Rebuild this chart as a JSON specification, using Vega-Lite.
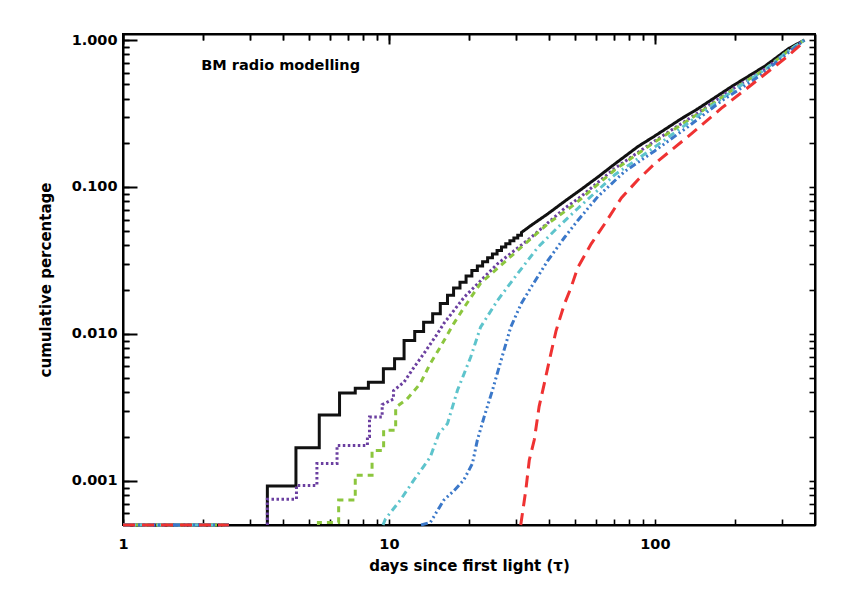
{
  "$schema": "https://vega.github.io/schema/vega-lite/v6.json",
  "width": 692,
  "height": 491,
  "autosize": "none",
  "padding": {"left": 123, "top": 34, "right": 47, "bottom": 69},
  "background": "white",
  "config": {
    "view": {"stroke": "black", "strokeWidth": 2},
    "axis": {
      "domainColor": "black", "tickColor": "black", "labelColor": "black", "titleColor": "black",
      "labelFont": "DejaVu Sans", "labelFontWeight": "bold", "labelFontSize": 14.5,
      "titleFont": "DejaVu Sans", "titleFontWeight": "bold", "titleFontSize": 15,
      "domainWidth": 2, "tickWidth": 1.6, "labelFlush": false, "labelOverlap": false,
      "grid": true, "gridColor": "black", "gridOpacity": 1
    }
  },
  "datasets": {
    "curves": [
      {"series":"s1","x":3.49,"y":0.0005},{"series":"s1","x":3.49,"y":0.00092},{"series":"s1","x":4.47,"y":0.00092},{"series":"s1","x":4.47,"y":0.00168},
      {"series":"s1","x":5.47,"y":0.00168},{"series":"s1","x":5.47,"y":0.0028},{"series":"s1","x":6.52,"y":0.0028},{"series":"s1","x":6.52,"y":0.00396},
      {"series":"s1","x":7.47,"y":0.00396},{"series":"s1","x":7.47,"y":0.00426},{"series":"s1","x":8.37,"y":0.00426},{"series":"s1","x":8.37,"y":0.00468},
      {"series":"s1","x":9.53,"y":0.00468},{"series":"s1","x":9.53,"y":0.00579},{"series":"s1","x":10.5,"y":0.00579},{"series":"s1","x":10.5,"y":0.00678},
      {"series":"s1","x":11.4,"y":0.00678},{"series":"s1","x":11.4,"y":0.00903},{"series":"s1","x":12.5,"y":0.00903},{"series":"s1","x":12.5,"y":0.0104},
      {"series":"s1","x":13.5,"y":0.0104},{"series":"s1","x":13.5,"y":0.012},{"series":"s1","x":14.6,"y":0.012},{"series":"s1","x":14.6,"y":0.0137},
      {"series":"s1","x":15.6,"y":0.0137},{"series":"s1","x":15.6,"y":0.0161},{"series":"s1","x":16.6,"y":0.0161},{"series":"s1","x":16.6,"y":0.0183},
      {"series":"s1","x":17.5,"y":0.0183},{"series":"s1","x":17.5,"y":0.0205},{"series":"s1","x":18.5,"y":0.0205},{"series":"s1","x":18.5,"y":0.0225},
      {"series":"s1","x":19.5,"y":0.0225},{"series":"s1","x":19.5,"y":0.0248},{"series":"s1","x":20.5,"y":0.0248},{"series":"s1","x":20.5,"y":0.027},
      {"series":"s1","x":21.5,"y":0.027},{"series":"s1","x":21.5,"y":0.029},{"series":"s1","x":22.5,"y":0.029},{"series":"s1","x":22.5,"y":0.031},
      {"series":"s1","x":23.5,"y":0.031},{"series":"s1","x":23.5,"y":0.033},{"series":"s1","x":24.5,"y":0.033},{"series":"s1","x":24.5,"y":0.035},
      {"series":"s1","x":25.5,"y":0.035},{"series":"s1","x":25.5,"y":0.037},{"series":"s1","x":26.5,"y":0.037},{"series":"s1","x":26.5,"y":0.039},
      {"series":"s1","x":27.5,"y":0.039},{"series":"s1","x":27.5,"y":0.041},{"series":"s1","x":28.5,"y":0.041},{"series":"s1","x":28.5,"y":0.043},
      {"series":"s1","x":29.5,"y":0.043},{"series":"s1","x":29.5,"y":0.045},{"series":"s1","x":30.5,"y":0.045},{"series":"s1","x":30.5,"y":0.047},
      {"series":"s1","x":31.5,"y":0.047},{"series":"s1","x":31.5,"y":0.049},{"series":"s1","x":34.2,"y":0.0547},{"series":"s1","x":39.5,"y":0.0655},
      {"series":"s1","x":45.7,"y":0.0797},{"series":"s1","x":52.8,"y":0.0962},{"series":"s1","x":61.1,"y":0.117},{"series":"s1","x":70.5,"y":0.143},
      {"series":"s1","x":86.4,"y":0.1886},{"series":"s1","x":99.8,"y":0.222},{"series":"s1","x":125.9,"y":0.292},{"series":"s1","x":145.6,"y":0.342},
      {"series":"s1","x":194.4,"y":0.483},{"series":"s1","x":259.6,"y":0.666},{"series":"s1","x":318,"y":0.875},{"series":"s1","x":365,"y":1.0},

      {"series":"s2","x":3.49,"y":0.0005},{"series":"s2","x":3.49,"y":0.00075},{"series":"s2","x":4.49,"y":0.00075},{"series":"s2","x":4.49,"y":0.00093},
      {"series":"s2","x":5.36,"y":0.00093},{"series":"s2","x":5.36,"y":0.00131},{"series":"s2","x":6.38,"y":0.00131},{"series":"s2","x":6.38,"y":0.00174},
      {"series":"s2","x":8.3,"y":0.00174},{"series":"s2","x":8.3,"y":0.002},{"series":"s2","x":8.45,"y":0.002},{"series":"s2","x":8.45,"y":0.00272},
      {"series":"s2","x":9.43,"y":0.00272},{"series":"s2","x":9.43,"y":0.0033},{"series":"s2","x":10.4,"y":0.0036},{"series":"s2","x":10.4,"y":0.0041},
      {"series":"s2","x":11.4,"y":0.0047},{"series":"s2","x":12.4,"y":0.0059},{"series":"s2","x":13.5,"y":0.0073},{"series":"s2","x":15.2,"y":0.01},
      {"series":"s2","x":16.1,"y":0.0118},{"series":"s2","x":19.2,"y":0.0178},{"series":"s2","x":25.6,"y":0.03},{"series":"s2","x":34.2,"y":0.0453},
      {"series":"s2","x":45.7,"y":0.0714},{"series":"s2","x":52.8,"y":0.0862},{"series":"s2","x":70.5,"y":0.1336},{"series":"s2","x":99.8,"y":0.2056},
      {"series":"s2","x":145.6,"y":0.321},{"series":"s2","x":194.4,"y":0.461},{"series":"s2","x":259.6,"y":0.635},{"series":"s2","x":318,"y":0.848},
      {"series":"s2","x":365,"y":1.0},

      {"series":"s3","x":5.43,"y":0.0005},{"series":"s3","x":5.43,"y":0.00052},{"series":"s3","x":6.47,"y":0.00052},{"series":"s3","x":6.47,"y":0.00074},
      {"series":"s3","x":7.47,"y":0.00074},{"series":"s3","x":7.47,"y":0.00109},{"series":"s3","x":8.64,"y":0.00109},{"series":"s3","x":8.64,"y":0.00161},
      {"series":"s3","x":9.55,"y":0.00161},{"series":"s3","x":9.55,"y":0.00221},{"series":"s3","x":10.6,"y":0.00221},{"series":"s3","x":10.6,"y":0.00316},
      {"series":"s3","x":11.7,"y":0.0036},{"series":"s3","x":13.1,"y":0.00458},{"series":"s3","x":14.3,"y":0.00627},{"series":"s3","x":15.6,"y":0.00813},
      {"series":"s3","x":17.5,"y":0.0117},{"series":"s3","x":19.2,"y":0.0152},{"series":"s3","x":22.1,"y":0.0221},{"series":"s3","x":29.6,"y":0.0353},
      {"series":"s3","x":39.5,"y":0.056},{"series":"s3","x":49.8,"y":0.076},{"series":"s3","x":70.5,"y":0.1305},{"series":"s3","x":99.8,"y":0.2024},
      {"series":"s3","x":145.6,"y":0.316},{"series":"s3","x":194.4,"y":0.453},{"series":"s3","x":259.6,"y":0.635},{"series":"s3","x":318,"y":0.848},
      {"series":"s3","x":365,"y":1.0},

      {"series":"s4","x":9.5,"y":0.0005},{"series":"s4","x":9.7,"y":0.00055},{"series":"s4","x":11.05,"y":0.00074},{"series":"s4","x":12.4,"y":0.00101},
      {"series":"s4","x":14.3,"y":0.00145},{"series":"s4","x":15.4,"y":0.00209},{"series":"s4","x":16.6,"y":0.00245},{"series":"s4","x":18.1,"y":0.00413},
      {"series":"s4","x":20.3,"y":0.00695},{"series":"s4","x":22.1,"y":0.0111},{"series":"s4","x":25.6,"y":0.0169},{"series":"s4","x":30.5,"y":0.0258},
      {"series":"s4","x":36.3,"y":0.0388},{"series":"s4","x":43.1,"y":0.053},{"series":"s4","x":51.3,"y":0.0714},{"series":"s4","x":70.5,"y":0.1207},
      {"series":"s4","x":99.8,"y":0.187},{"series":"s4","x":145.6,"y":0.306},{"series":"s4","x":194.4,"y":0.446},{"series":"s4","x":259.6,"y":0.63},
      {"series":"s4","x":318,"y":0.848},{"series":"s4","x":365,"y":1.0},

      {"series":"s5","x":13.2,"y":0.0005},{"series":"s5","x":14.3,"y":0.00052},{"series":"s5","x":16.1,"y":0.00074},{"series":"s5","x":17.6,"y":0.00086},
      {"series":"s5","x":19.1,"y":0.00101},{"series":"s5","x":20.6,"y":0.00131},{"series":"s5","x":21.5,"y":0.00189},{"series":"s5","x":22.8,"y":0.00272},
      {"series":"s5","x":24.5,"y":0.00413},{"series":"s5","x":26.4,"y":0.0066},{"series":"s5","x":28.7,"y":0.0111},{"series":"s5","x":31.4,"y":0.016},
      {"series":"s5","x":34.2,"y":0.0207},{"series":"s5","x":39.5,"y":0.0314},{"series":"s5","x":45.7,"y":0.0453},{"series":"s5","x":51.3,"y":0.0592},
      {"series":"s5","x":61.1,"y":0.0862},{"series":"s5","x":76.9,"y":0.1274},{"series":"s5","x":99.8,"y":0.176},{"series":"s5","x":133.5,"y":0.258},
      {"series":"s5","x":178,"y":0.385},{"series":"s5","x":238,"y":0.543},{"series":"s5","x":318,"y":0.822},{"series":"s5","x":365,"y":1.0},

      {"series":"s6","x":31.3,"y":0.0005},{"series":"s6","x":32.7,"y":0.00086},{"series":"s6","x":33.7,"y":0.00138},{"series":"s6","x":35.2,"y":0.0019},
      {"series":"s6","x":36.7,"y":0.0032},{"series":"s6","x":38.4,"y":0.0046},{"series":"s6","x":40.1,"y":0.0066},{"series":"s6","x":42.5,"y":0.0105},
      {"series":"s6","x":45.7,"y":0.016},{"series":"s6","x":48.4,"y":0.0207},{"series":"s6","x":51.3,"y":0.0283},{"series":"s6","x":57.6,"y":0.041},
      {"series":"s6","x":64.7,"y":0.056},{"series":"s6","x":74.8,"y":0.0842},{"series":"s6","x":86.4,"y":0.112},{"series":"s6","x":99.8,"y":0.144},
      {"series":"s6","x":133.5,"y":0.221},{"series":"s6","x":178,"y":0.344},{"series":"s6","x":238,"y":0.518},{"series":"s6","x":318,"y":0.785},
      {"series":"s6","x":350,"y":0.917},{"series":"s6","x":365,"y":1.0}
    ],
    "floor": [
      {"series":"s1","x":1,"y":0.0005},{"series":"s1","x":2.5,"y":0.0005},
      {"series":"s2","x":1,"y":0.0005},{"series":"s2","x":2.5,"y":0.0005},
      {"series":"s3","x":1,"y":0.0005},{"series":"s3","x":2.5,"y":0.0005},
      {"series":"s4","x":1,"y":0.0005},{"series":"s4","x":2.5,"y":0.0005},
      {"series":"s5","x":1,"y":0.0005},{"series":"s5","x":2.5,"y":0.0005},
      {"series":"s6","x":1,"y":0.0005},{"series":"s6","x":2.5,"y":0.0005}
    ],
    "note": [{"label":"BM radio modelling","x":1.97,"y":0.626}]
  },
  "layer": [
    {
      "data": {"name": "curves"},
      "mark": {"type": "line", "strokeWidth": 3},
      "encoding": {
        "x": {"field": "x", "type": "quantitative",
          "scale": {"type": "log", "domain": [1, 400], "nice": false},
          "axis": {"orient": "bottom", "values": [1,2,3,4,5,6,7,8,9,10,20,30,40,50,60,70,80,90,100,200,300], "format": "d",
            "labelOpacity": {"condition": {"test": "abs(log(datum.value)/LN10 - round(log(datum.value)/LN10)) < 0.001", "value": 1}, "value": 0},
            "gridDash": {"condition": {"test": "abs(log(datum.value)/LN10 - round(log(datum.value)/LN10)) < 0.001", "value": [10, 3000]}, "value": [6, 3000]},
            "gridWidth": {"condition": {"test": "abs(log(datum.value)/LN10 - round(log(datum.value)/LN10)) < 0.001", "value": 2}, "value": 1.5},
            "tickSize": -6, "labelPadding": 18,
            "title": "days since first light (τ)", "titlePadding": 8}},
        "y": {"field": "y", "type": "quantitative",
          "scale": {"type": "log", "domain": [0.0005, 1.1], "nice": false},
          "axis": {"orient": "left", "values": [0.0006,0.0007,0.0008,0.0009,0.001,0.002,0.003,0.004,0.005,0.006,0.007,0.008,0.009,0.01,0.02,0.03,0.04,0.05,0.06,0.07,0.08,0.09,0.1,0.2,0.3,0.4,0.5,0.6,0.7,0.8,0.9,1], "format": ".3f",
            "labelOpacity": {"condition": {"test": "abs(log(datum.value)/LN10 - round(log(datum.value)/LN10)) < 0.001", "value": 1}, "value": 0},
            "gridDash": {"condition": {"test": "abs(log(datum.value)/LN10 - round(log(datum.value)/LN10)) < 0.001", "value": [14, 3000]}, "value": [6, 3000]},
            "gridWidth": {"condition": {"test": "abs(log(datum.value)/LN10 - round(log(datum.value)/LN10)) < 0.001", "value": 2}, "value": 1.5},
            "tickSize": -6, "labelPadding": 12,
            "title": "cumulative percentage", "titlePadding": 18}},
        "color": {"field": "series", "type": "nominal", "legend": null,
          "scale": {"domain": ["s1","s2","s3","s4","s5","s6"], "range": ["#111111","#6b3fa0","#8cc63e","#5ec4cc","#3b78c9","#ef3232"]}},
        "strokeDash": {"field": "series", "type": "nominal", "legend": null,
          "scale": {"domain": ["s1","s2","s3","s4","s5","s6"], "range": [[1,0],[2.5,2.5],[6,5],[7,4,2,4],[7,3,2,3,2,3,2,3],[12,7]]}}
      }
    },
    {
      "data": {"name": "floor"},
      "mark": {"type": "line", "strokeWidth": 3},
      "encoding": {
        "x": {"field": "x", "type": "quantitative",
          "scale": {"type": "log", "domain": [1, 400], "nice": false},
          "axis": {"orient": "top", "values": [1,2,3,4,5,6,7,8,9,10,20,30,40,50,60,70,80,90,100,200,300], "labels": false, "title": null,
            "gridDash": {"condition": {"test": "abs(log(datum.value)/LN10 - round(log(datum.value)/LN10)) < 0.001", "value": [10, 3000]}, "value": [6, 3000]},
            "gridWidth": {"condition": {"test": "abs(log(datum.value)/LN10 - round(log(datum.value)/LN10)) < 0.001", "value": 2}, "value": 1.5},
            "tickSize": -6}},
        "y": {"field": "y", "type": "quantitative",
          "scale": {"type": "log", "domain": [0.0005, 1.1], "nice": false},
          "axis": {"orient": "right", "values": [0.0006,0.0007,0.0008,0.0009,0.001,0.002,0.003,0.004,0.005,0.006,0.007,0.008,0.009,0.01,0.02,0.03,0.04,0.05,0.06,0.07,0.08,0.09,0.1,0.2,0.3,0.4,0.5,0.6,0.7,0.8,0.9,1], "labels": false, "title": null,
            "gridDash": {"condition": {"test": "abs(log(datum.value)/LN10 - round(log(datum.value)/LN10)) < 0.001", "value": [14, 3000]}, "value": [6, 3000]},
            "gridWidth": {"condition": {"test": "abs(log(datum.value)/LN10 - round(log(datum.value)/LN10)) < 0.001", "value": 2}, "value": 1.5},
            "tickSize": -6}},
        "color": {"field": "series", "type": "nominal", "legend": null,
          "scale": {"domain": ["s1","s2","s3","s4","s5","s6"], "range": ["#111111","#6b3fa0","#8cc63e","#5ec4cc","#3b78c9","#ef3232"]}},
        "strokeDash": {"field": "series", "type": "nominal", "legend": null,
          "scale": {"domain": ["s1","s2","s3","s4","s5","s6"], "range": [[1,0],[2.5,2.5],[6,5],[7,4,2,4],[7,3,2,3,2,3,2,3],[12,7]]}}
      }
    },
    {
      "data": {"name": "note"},
      "mark": {"type": "text", "align": "left", "baseline": "alphabetic", "font": "DejaVu Sans", "fontWeight": "bold", "fontSize": 14.5, "color": "black"},
      "encoding": {
        "x": {"field": "x", "type": "quantitative", "scale": {"type": "log", "domain": [1, 400], "nice": false}, "axis": null},
        "y": {"field": "y", "type": "quantitative", "scale": {"type": "log", "domain": [0.0005, 1.1], "nice": false}, "axis": null},
        "text": {"field": "label"}
      }
    }
  ]
}
